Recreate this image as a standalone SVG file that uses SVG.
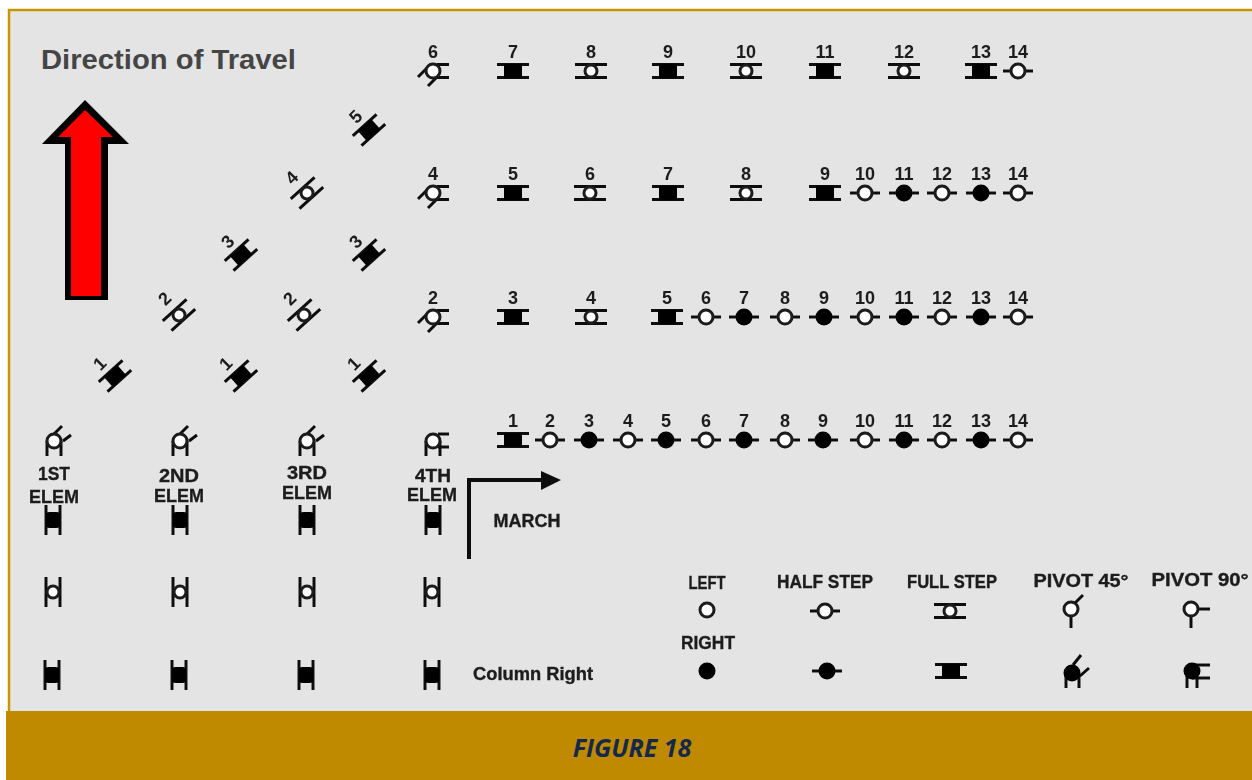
<svg xmlns="http://www.w3.org/2000/svg" width="1252" height="780" viewBox="0 0 1252 780">
<style>
.n{font:700 18px "Liberation Sans",Arial,sans-serif;fill:#1c1c1c;text-anchor:middle}
.l{font:700 18px "Liberation Sans",Arial,sans-serif;fill:#1c1c1c;text-anchor:middle;stroke:#1c1c1c;stroke-width:.35}
.k{stroke:#111;fill:none;stroke-width:3}
.o{fill:#fff;stroke:#1a1a1a;stroke-width:3}
.s{fill:#050505;stroke:none}
</style>
<defs>
<filter id="soft" x="-2%" y="-2%" width="104%" height="104%"><feGaussianBlur stdDeviation="0.7"/></filter>
<g id="fo"><path class="k" d="M-16-6.500H16M-16 6.500H16"/><circle class="o" r="6"/></g>
<g id="fs"><path class="k" d="M-16-6.500H16M-16 6.500H16"/><rect class="s" x="-9" y="-7" width="18" height="14"/></g>
<g id="ho"><path class="k" d="M-15 0H15"/><circle class="o" r="7"/></g>
<g id="hs"><path class="k" d="M-15 0H15"/><circle class="s" r="8.500"/></g>
<g id="pr"><path class="k" d="M-15 6L-6-3M-5 15L4 6M4-6.500H16M4 6.500H16"/><circle class="o" r="7"/></g>
<g id="pe"><path class="k" d="M-7 0V15M7 0V15M0-7L8-15M9 0L17-6"/><circle class="o" r="7"/></g>
<g id="vs"><path class="k" d="M-7-15V15M7-15V15"/><rect class="s" x="-7.500" y="-8" width="15" height="16" rx="4"/></g>
<g id="vo"><path class="k" d="M-7-15V15M7-15V15"/><circle class="o" r="6"/></g>
</defs>
<rect width="1252" height="780" fill="#fff"/>
<rect x="9" y="10" width="1243" height="702" fill="#e4e4e4"/>
<path d="M9 712V10H1252" fill="none" stroke="#c99400" stroke-width="2.500"/>
<text x="41" y="69" font-family="Liberation Sans, Arial, sans-serif" font-weight="700" font-size="27" fill="#454545" textLength="255" lengthAdjust="spacingAndGlyphs">Direction of Travel</text>
<g id="travel-arrow"><polygon points="85,100 129,144 108,144 108,300 65,300 65,144 42,144" fill="#000"/><polygon points="85,110 113,137 101,137 101,296 71,296 71,137 58,137" fill="#f00"/></g>
<g filter="url(#soft)">
<g id="connectors"><path d="M469 559V480H542" fill="none" stroke="#111" stroke-width="4"/><polygon points="541,471 561,480 541,490" fill="#111"/></g>
<g id="diagonals">
<g id="d5" transform="translate(369,130)"><use href="#fs" transform="rotate(-42)"/><text class="n" transform="translate(-9,-9) rotate(-45)">5</text></g>
<g id="d4" transform="translate(307,193)"><use href="#fo" transform="rotate(-42)"/><text class="n" transform="translate(-11,-11) rotate(-45)">4</text></g>
<g id="d3a" transform="translate(241,255)"><use href="#fs" transform="rotate(-42)"/><text class="n" transform="translate(-9,-9) rotate(-45)">3</text></g>
<g id="d3b" transform="translate(369,255)"><use href="#fs" transform="rotate(-42)"/><text class="n" transform="translate(-9,-9) rotate(-45)">3</text></g>
<g id="d2a" transform="translate(179,315)"><use href="#fo" transform="rotate(-42)"/><text class="n" transform="translate(-10,-12) rotate(-45)">2</text></g>
<g id="d2b" transform="translate(304,315)"><use href="#fo" transform="rotate(-42)"/><text class="n" transform="translate(-10,-12) rotate(-45)">2</text></g>
<g id="d1a" transform="translate(115,376)"><use href="#fs" transform="rotate(-42)"/><text class="n" transform="translate(-11,-8) rotate(-45)">1</text></g>
<g id="d1b" transform="translate(241,376)"><use href="#fs" transform="rotate(-42)"/><text class="n" transform="translate(-11,-8) rotate(-45)">1</text></g>
<g id="d1c" transform="translate(369,376)"><use href="#fs" transform="rotate(-42)"/><text class="n" transform="translate(-11,-8) rotate(-45)">1</text></g>
</g>
<g id="row-a">
<g id="a6" transform="translate(433,71)"><use href="#pr"/><text class="n" y="-13">6</text></g>
<g id="a7" transform="translate(513,71)"><use href="#fs"/><text class="n" y="-13">7</text></g>
<g id="a8" transform="translate(591,71)"><use href="#fo"/><text class="n" y="-13">8</text></g>
<g id="a9" transform="translate(668,71)"><use href="#fs"/><text class="n" y="-13">9</text></g>
<g id="a10" transform="translate(746,71)"><use href="#fo"/><text class="n" y="-13">10</text></g>
<g id="a11" transform="translate(825,71)"><use href="#fs"/><text class="n" y="-13">11</text></g>
<g id="a12" transform="translate(904,71)"><use href="#fo"/><text class="n" y="-13">12</text></g>
<g id="a13" transform="translate(981,71)"><use href="#fs"/><text class="n" y="-13">13</text></g>
<g id="a14" transform="translate(1018,71)"><use href="#ho"/><text class="n" y="-13">14</text></g>
</g>
<g id="row-b">
<g id="b4" transform="translate(433,193)"><use href="#pr"/><text class="n" y="-13">4</text></g>
<g id="b5" transform="translate(513,193)"><use href="#fs"/><text class="n" y="-13">5</text></g>
<g id="b6" transform="translate(590,193)"><use href="#fo"/><text class="n" y="-13">6</text></g>
<g id="b7" transform="translate(668,193)"><use href="#fs"/><text class="n" y="-13">7</text></g>
<g id="b8" transform="translate(746,193)"><use href="#fo"/><text class="n" y="-13">8</text></g>
<g id="b9" transform="translate(825,193)"><use href="#fs"/><text class="n" y="-13">9</text></g>
<g id="b10" transform="translate(865,193)"><use href="#ho"/><text class="n" y="-13">10</text></g>
<g id="b11" transform="translate(904,193)"><use href="#hs"/><text class="n" y="-13">11</text></g>
<g id="b12" transform="translate(942,193)"><use href="#ho"/><text class="n" y="-13">12</text></g>
<g id="b13" transform="translate(981,193)"><use href="#hs"/><text class="n" y="-13">13</text></g>
<g id="b14" transform="translate(1018,193)"><use href="#ho"/><text class="n" y="-13">14</text></g>
</g>
<g id="row-c">
<g id="c2" transform="translate(433,317)"><use href="#pr"/><text class="n" y="-13">2</text></g>
<g id="c3" transform="translate(513,317)"><use href="#fs"/><text class="n" y="-13">3</text></g>
<g id="c4" transform="translate(591,317)"><use href="#fo"/><text class="n" y="-13">4</text></g>
<g id="c5" transform="translate(667,317)"><use href="#fs"/><text class="n" y="-13">5</text></g>
<g id="c6" transform="translate(706,317)"><use href="#ho"/><text class="n" y="-13">6</text></g>
<g id="c7" transform="translate(744,317)"><use href="#hs"/><text class="n" y="-13">7</text></g>
<g id="c8" transform="translate(785,317)"><use href="#ho"/><text class="n" y="-13">8</text></g>
<g id="c9" transform="translate(824,317)"><use href="#hs"/><text class="n" y="-13">9</text></g>
<g id="c10" transform="translate(865,317)"><use href="#ho"/><text class="n" y="-13">10</text></g>
<g id="c11" transform="translate(904,317)"><use href="#hs"/><text class="n" y="-13">11</text></g>
<g id="c12" transform="translate(942,317)"><use href="#ho"/><text class="n" y="-13">12</text></g>
<g id="c13" transform="translate(981,317)"><use href="#hs"/><text class="n" y="-13">13</text></g>
<g id="c14" transform="translate(1018,317)"><use href="#ho"/><text class="n" y="-13">14</text></g>
</g>
<g id="row-d">
<g id="d-1" transform="translate(513,440)"><use href="#fs"/><text class="n" y="-13">1</text></g>
<g id="d-2" transform="translate(550,440)"><use href="#ho"/><text class="n" y="-13">2</text></g>
<g id="d-3" transform="translate(589,440)"><use href="#hs"/><text class="n" y="-13">3</text></g>
<g id="d-4" transform="translate(628,440)"><use href="#ho"/><text class="n" y="-13">4</text></g>
<g id="d-5" transform="translate(666,440)"><use href="#hs"/><text class="n" y="-13">5</text></g>
<g id="d-6" transform="translate(706,440)"><use href="#ho"/><text class="n" y="-13">6</text></g>
<g id="d-7" transform="translate(744,440)"><use href="#hs"/><text class="n" y="-13">7</text></g>
<g id="d-8" transform="translate(785,440)"><use href="#ho"/><text class="n" y="-13">8</text></g>
<g id="d-9" transform="translate(823,440)"><use href="#hs"/><text class="n" y="-13">9</text></g>
<g id="d-10" transform="translate(865,440)"><use href="#ho"/><text class="n" y="-13">10</text></g>
<g id="d-11" transform="translate(904,440)"><use href="#hs"/><text class="n" y="-13">11</text></g>
<g id="d-12" transform="translate(942,440)"><use href="#ho"/><text class="n" y="-13">12</text></g>
<g id="d-13" transform="translate(981,440)"><use href="#hs"/><text class="n" y="-13">13</text></g>
<g id="d-14" transform="translate(1018,440)"><use href="#ho"/><text class="n" y="-13">14</text></g>
</g>
<g id="elem-1"><use href="#pe" x="54" y="441"/><text class="l" x="54" y="480" textLength="32" lengthAdjust="spacingAndGlyphs">1ST</text><text class="l" x="54" y="503" textLength="50" lengthAdjust="spacingAndGlyphs">ELEM</text><use href="#vs" x="53" y="520"/></g>
<g id="elem-2"><use href="#pe" x="180" y="441"/><text class="l" x="179" y="482" textLength="40" lengthAdjust="spacingAndGlyphs">2ND</text><text class="l" x="179" y="502" textLength="50" lengthAdjust="spacingAndGlyphs">ELEM</text><use href="#vs" x="180" y="520"/></g>
<g id="elem-3"><use href="#pe" x="307" y="441"/><text class="l" x="307" y="479" textLength="40" lengthAdjust="spacingAndGlyphs">3RD</text><text class="l" x="307" y="499" textLength="50" lengthAdjust="spacingAndGlyphs">ELEM</text><use href="#vs" x="307" y="520"/></g>
<g id="elem-4"><path class="k" d="M426 441V456M440 441V456M438 434H449M438 447H449"/><circle class="o" cx="433" cy="441" r="7"/><text class="l" x="433" y="482" textLength="36" lengthAdjust="spacingAndGlyphs">4TH</text><text class="l" x="432" y="501" textLength="50" lengthAdjust="spacingAndGlyphs">ELEM</text><use href="#vs" x="433" y="520"/></g>
<g id="open-row"><use href="#vo" x="53" y="592"/><use href="#vo" x="180" y="592"/><use href="#vo" x="307" y="592"/><use href="#vo" x="432" y="592"/></g>
<g id="solid-row"><use href="#vs" x="52" y="675"/><use href="#vs" x="179" y="675"/><use href="#vs" x="306" y="675"/><use href="#vs" x="432" y="675"/></g>
<text id="march-label" class="l" x="527" y="527" textLength="67" lengthAdjust="spacingAndGlyphs">MARCH</text>
<text id="column-right" class="l" x="533" y="680" textLength="120" lengthAdjust="spacingAndGlyphs">Column Right</text>
<g id="legend-left"><text class="l" x="707" y="589" textLength="37" lengthAdjust="spacingAndGlyphs">LEFT</text><circle class="o" cx="707" cy="610" r="7"/></g>
<g id="legend-half"><text class="l" x="825" y="588" textLength="96" lengthAdjust="spacingAndGlyphs">HALF STEP</text><use href="#ho" x="825" y="611"/></g>
<g id="legend-full"><text class="l" x="952" y="588" textLength="90" lengthAdjust="spacingAndGlyphs">FULL STEP</text><use href="#fo" x="950" y="611"/></g>
<g id="legend-p45"><text class="l" x="1081" y="587" textLength="95" lengthAdjust="spacingAndGlyphs">PIVOT 45°</text><path class="k" d="M1071 616V628M1075 603L1083 595"/><circle class="o" cx="1071" cy="609" r="7"/></g>
<g id="legend-p90"><text class="l" x="1200" y="586" textLength="97" lengthAdjust="spacingAndGlyphs">PIVOT 90°</text><path class="k" d="M1191 616V628M1197 609H1210"/><circle class="o" cx="1191" cy="609" r="7"/></g>
<g id="legend-right"><text class="l" x="708" y="649" textLength="54" lengthAdjust="spacingAndGlyphs">RIGHT</text><circle class="s" cx="707" cy="671" r="8.500"/></g>
<g id="legend-half-s"><use href="#hs" x="827" y="671"/></g>
<g id="legend-full-s"><use href="#fs" x="951" y="671"/></g>
<g id="legend-p45-s"><path class="k" d="M1066 676V688M1079 676V688M1073 665L1081 655M1080 676L1089 668"/><circle class="s" cx="1072" cy="673" r="8.500"/></g>
<g id="legend-p90-s"><path class="k" d="M1187 676V688M1197 676V688M1192 665H1210M1192 678H1210"/><circle class="s" cx="1192" cy="671" r="8.500"/></g>
</g>
<rect x="6" y="711" width="1246" height="69" fill="#bf8a00"/>
<text x="632" y="757" text-anchor="middle" font-family="Open Sans, sans-serif" font-weight="700" font-style="italic" font-size="25" fill="#14284b">FIGURE 18</text>
</svg>
